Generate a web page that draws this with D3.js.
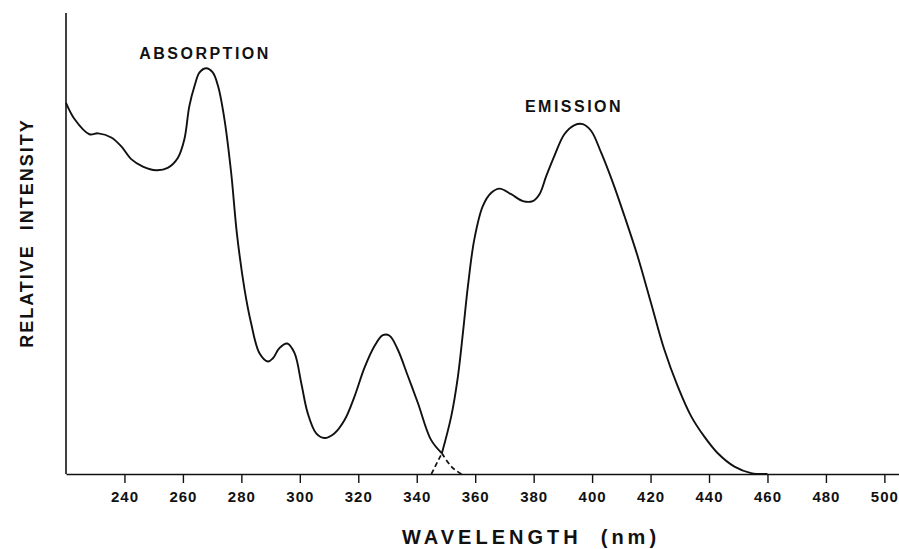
<!DOCTYPE html>
<html>
<head>
<meta charset="utf-8">
<script src="https://cdn.jsdelivr.net/npm/d3@7"></script>
<style>
  body { margin: 0; background: #fff; }
  svg { display: block; font-family: "Liberation Sans", Arial, sans-serif; }
  .lbl { font-weight: bold; fill: #111; }
</style>
</head>
<body>
<div class="chart"></div>
<script>
// --- DATA --- //
const absWl  = [220, 222.9, 228, 231, 235.5, 239, 242.3, 246.3, 250.8, 254.8, 258.3, 260.5, 262.2, 264, 265.7, 268, 270.2, 272, 274.2, 276.5, 278.5, 281.1, 283.3, 286.2, 289.1, 290.8, 293, 295.7, 298.2, 300.5, 302.7, 305.6, 308.4, 311.8, 315.3, 318.7, 322.1, 325.5, 328.4, 330.7, 333.5, 337, 340.4, 344.9, 348.6, 352, 355.3];
const absVal = [80.5, 77.0, 73.7, 73.9, 73.0, 71.0, 68.3, 66.7, 65.9, 66.4, 68.6, 72.6, 79.8, 84.2, 87.1, 88.0, 87.1, 84.2, 77.0, 65.4, 52.0, 40.0, 32.8, 26.2, 24.4, 25.1, 27.3, 28.3, 26.2, 19.7, 13.2, 8.8, 7.8, 8.8, 11.7, 16.8, 23.0, 27.7, 30.1, 30.0, 27.0, 21.2, 15.4, 7.4, 4.5, 1.5, 0];

const emWl  = [345, 348.6, 351.8, 354.1, 355.8, 357.5, 359.7, 362.6, 365.5, 368.3, 372.3, 376.3, 379.7, 382, 384.3, 387.1, 390.5, 394, 396.8, 399.7, 403.1, 407.1, 411.1, 415.6, 420.2, 424.7, 429.3, 433.9, 438.4, 443, 448.7, 454.4, 460];
const emVal = [0, 4.5, 12.5, 21.2, 30.6, 40.7, 50.9, 58.1, 61.0, 61.9, 60.7, 59.2, 59.2, 60.7, 64.6, 69.0, 73.7, 75.7, 75.9, 74.4, 69.7, 63.2, 55.9, 47.2, 37.0, 27.0, 19.0, 12.5, 8.1, 4.5, 1.6, 0.2, 0];

// the two spectra cross here; beyond it each curve is drawn dashed
const crossWl = 348.6;

const xTicks = [240, 260, 280, 300, 320, 340, 360, 380, 400, 420, 440, 460, 480, 500];

// --- SVG --- //
const width = 899;
const height = 549;

const svg = d3.select('.chart').append('svg')
    .attr('width', width)
    .attr('height', height)
    .attr('viewBox', [0, 0, width, height]);

const x = d3.scaleLinear()
    .domain([220, 505])
    .range([66, 899]);

const y = d3.scaleLinear()
    .domain([0, 100])
    .range([474, 13]);

// --- AXES --- //
const xAxis = svg.append('g')
    .attr('transform', `translate(0,${y(0)})`)
    .call(d3.axisBottom(x).tickValues(xTicks).tickSize(9).tickSizeOuter(0).tickPadding(8));

xAxis.select('.domain').attr('stroke', '#111').attr('stroke-width', 1.6);
xAxis.selectAll('.tick line').attr('stroke', '#111').attr('stroke-width', 1.4);
xAxis.selectAll('.tick text')
    .attr('class', 'lbl')
    .style('font-size', '15px')
    .style('letter-spacing', '1px')
    .attr('fill', '#111');

svg.append('line')
    .attr('x1', x(220)).attr('x2', x(220))
    .attr('y1', y(100)).attr('y2', y(0))
    .attr('stroke', '#111')
    .attr('stroke-width', 1.6);

// --- CURVES --- //
const line = d3.line()
    .x(d => x(d[0]))
    .y(d => y(d[1]))
    .curve(d3.curveCatmullRom.alpha(0.5));

const absPts = absWl.map((w, i) => [w, absVal[i]]);
const emPts = emWl.map((w, i) => [w, emVal[i]]);

// absorption: solid up to the crossing, dashed after
svg.append('path')
    .datum(absPts.filter(d => d[0] <= crossWl))
    .attr('d', line)
    .attr('fill', 'none')
    .attr('stroke', '#111')
    .attr('stroke-width', 1.9);

svg.append('path')
    .datum(absPts.filter(d => d[0] >= crossWl))
    .attr('d', line)
    .attr('fill', 'none')
    .attr('stroke', '#111')
    .attr('stroke-width', 1.7)
    .attr('stroke-dasharray', '5,3');

// emission: dashed up to the crossing, solid after
svg.append('path')
    .datum(emPts.filter(d => d[0] <= crossWl))
    .attr('d', line)
    .attr('fill', 'none')
    .attr('stroke', '#111')
    .attr('stroke-width', 1.7)
    .attr('stroke-dasharray', '5,3');

svg.append('path')
    .datum(emPts.filter(d => d[0] >= crossWl))
    .attr('d', line)
    .attr('fill', 'none')
    .attr('stroke', '#111')
    .attr('stroke-width', 1.9);

// --- LABELS --- //
svg.append('text')
    .attr('class', 'lbl')
    .attr('x', 205).attr('y', 59)
    .attr('text-anchor', 'middle')
    .style('font-size', '16px')
    .style('letter-spacing', '2.5px')
    .text('ABSORPTION');

svg.append('text')
    .attr('class', 'lbl')
    .attr('x', 574).attr('y', 112)
    .attr('text-anchor', 'middle')
    .style('font-size', '16px')
    .style('letter-spacing', '2.5px')
    .text('EMISSION');

svg.append('text')
    .attr('class', 'lbl')
    .attr('x', 402).attr('y', 544)
    .style('font-size', '20px')
    .style('letter-spacing', '4px')
    .style('white-space', 'pre')
    .text('WAVELENGTH  (nm)');

svg.append('text')
    .attr('class', 'lbl')
    .attr('transform', 'translate(33,233) rotate(-90)')
    .attr('text-anchor', 'middle')
    .style('font-size', '18px')
    .style('letter-spacing', '2px')
    .style('white-space', 'pre')
    .text('RELATIVE  INTENSITY');
</script>
</body>
</html>
